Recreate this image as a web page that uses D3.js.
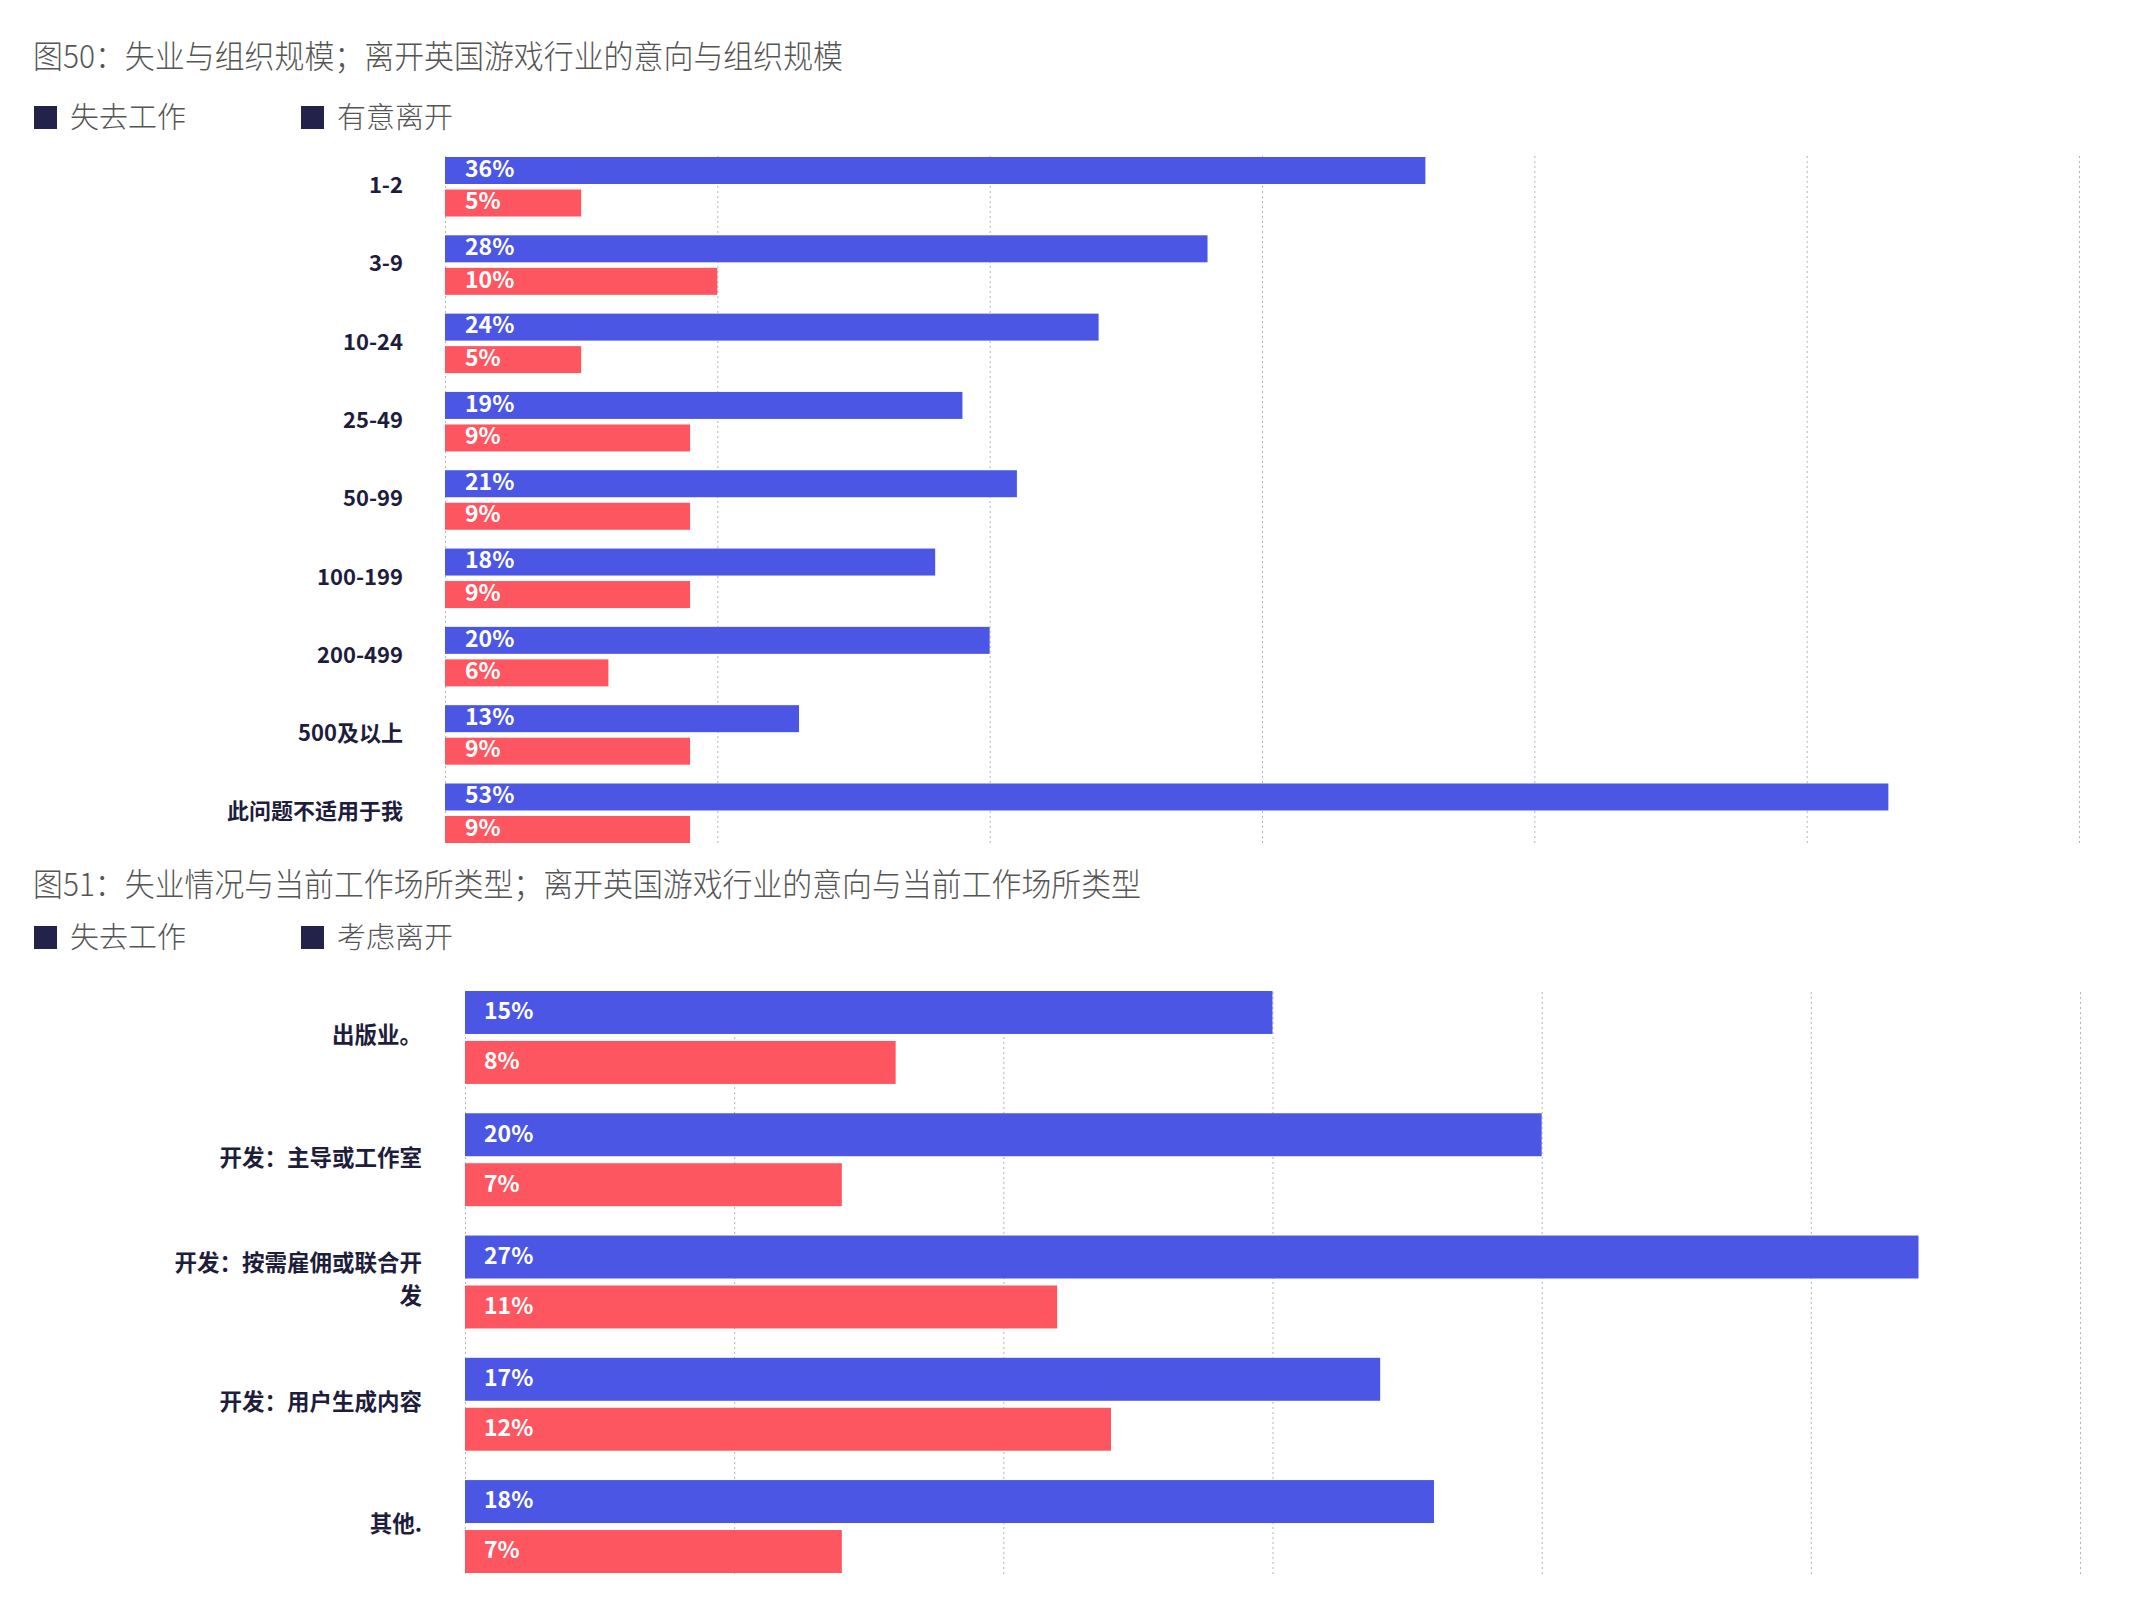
<!DOCTYPE html>
<html>
<head>
<meta charset="utf-8">
<script src="https://cdn.jsdelivr.net/npm/d3@7"></script>
<style>
  body { margin: 0; background: #fff; }
  svg { display: block; font-family: "Noto Sans CJK SC", "Noto Sans", sans-serif; }
  .grid line { stroke: #b5b5b5; stroke-dasharray: 2,3; }
  .grid path { display: none; }
  .title, .legend text { fill: #555; font-weight: 300; }
  .cat { fill: #1e1e3c; font-weight: 700; }
  .val { fill: #fff; font-weight: 700; }
</style>
</head>
<body>
<svg width="2156" height="1618"></svg>
<script>
// figure 50 - organisation size
var sizeCategories = ["1-2", "3-9", "10-24", "25-49", "50-99", "100-199", "200-499", "500及以上", "此问题不适用于我"];
var sizeLostJob = [36, 28, 24, 19, 21, 18, 20, 13, 53];
var sizeIntendLeave = [5, 10, 5, 9, 9, 9, 6, 9, 9];
var sizeTicks = [0, 10, 20, 30, 40, 50, 60];

// figure 51 - workplace type
var workCategories = ["出版业。", "开发：主导或工作室", "开发：按需雇佣或联合开发", "开发：用户生成内容", "其他."];
var workLostJob = [15, 20, 27, 17, 18];
var workConsiderLeave = [8, 7, 11, 12, 7];
var workTicks = [0, 5, 10, 15, 20, 25, 30];

var blue = "#4b57e4";
var red = "#fe5660";
var navy = "#22224a";

var svg = d3.select("svg");

function drawChart(opt) {
  var g = svg.append("g");

  // title
  g.append("text")
    .attr("class", "title")
    .attr("x", 33)
    .attr("y", opt.titleY)
    .attr("font-size", 32)
    .attr("textLength", opt.titleWidth)
    .attr("lengthAdjust", "spacingAndGlyphs")
    .text(opt.title);

  // legend
  var legend = g.append("g").attr("class", "legend");
  opt.legend.forEach(function(name, i) {
    var lx = i == 0 ? 34 : 301;
    legend.append("rect")
      .attr("x", lx)
      .attr("y", opt.legendY - 12)
      .attr("width", 23)
      .attr("height", 23)
      .attr("fill", navy);
    legend.append("text")
      .attr("x", lx + 36)
      .attr("y", opt.legendY)
      .attr("dy", "0.36em")
      .attr("font-size", 29)
      .text(name);
  });

  var x = d3.scaleLinear().domain([0, opt.ticks[opt.ticks.length - 1]]).range(opt.xRange);
  var y = d3.scaleBand().domain(opt.categories).range(opt.yRange).paddingInner(0.24).paddingOuter(0);
  var ySub = d3.scaleBand().domain(["a", "b"]).range([0, y.bandwidth()]).paddingInner(opt.subPad);

  // dotted grid
  g.append("g")
    .attr("class", "grid")
    .attr("transform", "translate(0," + opt.gridBottom + ")")
    .call(d3.axisBottom(x).tickValues(opt.ticks).tickSize(-(opt.gridBottom - opt.gridTop)).tickFormat(""));

  var rows = opt.categories.map(function(c, i) {
    return { cat: c, a: opt.seriesA[i], b: opt.seriesB[i] };
  });

  var groups = g.selectAll(".row")
    .data(rows)
    .enter()
    .append("g")
    .attr("class", "row")
    .attr("transform", function(d) { return "translate(0," + y(d.cat) + ")"; });

  [["a", blue], ["b", red]].forEach(function(s) {
    groups.append("rect")
      .attr("x", x(0))
      .attr("y", ySub(s[0]))
      .attr("width", function(d) { return x(d[s[0]]) - x(0); })
      .attr("height", ySub.bandwidth())
      .attr("fill", s[1]);
    groups.append("text")
      .attr("class", "val")
      .attr("x", x(0) + opt.valPad)
      .attr("y", ySub(s[0]) + ySub.bandwidth() / 2)
      .attr("dy", opt.valDy)
      .attr("font-size", opt.valSize)
      .text(function(d) { return d[s[0]] + "%"; });
  });

  // category labels, wrapped by character if too wide
  groups.each(function(d) {
    var t = d3.select(this).append("text")
      .attr("class", "cat")
      .attr("text-anchor", "end")
      .attr("font-size", opt.catSize);
    var lines = [];
    var cur = "";
    var probe = t.append("tspan");
    Array.from(d.cat).forEach(function(ch) {
      probe.text(cur + ch);
      if (cur && probe.node().getComputedTextLength() > opt.catWidth) {
        lines.push(cur);
        cur = ch;
      } else {
        cur += ch;
      }
    });
    lines.push(cur);
    probe.remove();
    var lh = 33;
    var top = y.bandwidth() / 2 + opt.catShift - (lines.length - 1) * lh / 2;
    lines.forEach(function(line, i) {
      t.append("tspan")
        .attr("x", opt.catX)
        .attr("y", top + i * lh)
        .attr("dy", "0.35em")
        .text(line);
    });
  });
}

drawChart({
  title: "图50：失业与组织规模；离开英国游戏行业的意向与组织规模",
  titleY: 68,
  titleWidth: 810,
  legend: ["失去工作", "有意离开"],
  legendY: 118,
  categories: sizeCategories,
  seriesA: sizeLostJob,
  seriesB: sizeIntendLeave,
  ticks: sizeTicks,
  xRange: [445, 2079],
  yRange: [157, 843],
  gridTop: 155,
  gridBottom: 843,
  subPad: 0.17,
  catX: 403,
  catSize: 22,
  catWidth: 260,
  catShift: -1.5,
  valPad: 20,
  valSize: 23,
  valDy: "0.27em"
});

drawChart({
  title: "图51：失业情况与当前工作场所类型；离开英国游戏行业的意向与当前工作场所类型",
  titleY: 896,
  titleWidth: 1108,
  legend: ["失去工作", "考虑离开"],
  legendY: 938,
  categories: workCategories,
  seriesA: workLostJob,
  seriesB: workConsiderLeave,
  ticks: workTicks,
  xRange: [465, 2080],
  yRange: [991, 1573],
  gridTop: 989,
  gridBottom: 1574,
  subPad: 0.14,
  catX: 422,
  catSize: 22.5,
  catWidth: 256,
  catShift: -2,
  valPad: 19,
  valSize: 23,
  valDy: "0.3em"
});
</script>
</body>
</html>
